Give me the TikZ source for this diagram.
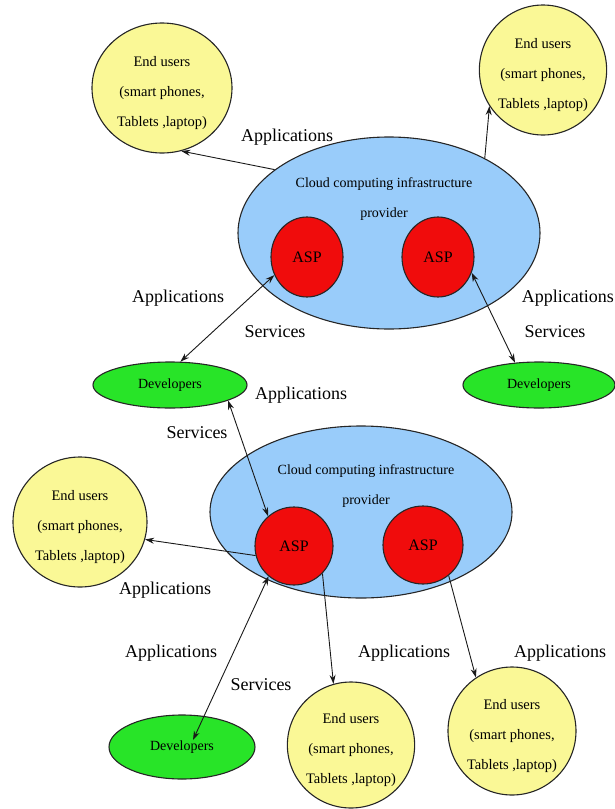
\documentclass[tikz,border=0pt]{standalone}
\usepackage{fontspec}
\setmainfont{Liberation Serif}
\usetikzlibrary{arrows.meta,shapes.geometric}

\definecolor{useryellow}{RGB}{250,248,150}
\definecolor{cloudblue}{RGB}{153,204,250}
\definecolor{aspred}{RGB}{240,12,12}
\definecolor{devgreen}{RGB}{40,228,40}

\newcommand{\usertext}{\rule{0pt}{20pt}End users\\(smart phones,\\Tablets ,laptop)}

\tikzset{
    blob/.style={ellipse, draw=black!85, line width=1.1pt, inner sep=0pt, align=center},
    users/.style={blob, fill=useryellow, font=\fontsize{14.5}{30}\selectfont},
    provider/.style={blob, fill=cloudblue, minimum width=302pt},
    ptext/.style={align=center, font=\fontsize{14}{30}\selectfont},
    asp/.style={blob, fill=aspred, font=\fontsize{16}{18}\selectfont},
    devs/.style={blob, fill=devgreen, font=\fontsize{14}{16}\selectfont},
    lbl/.style={font=\fontsize{18}{20}\selectfont},
    link/.style={line width=0.9pt, black!90}
}

\begin{document}
\begin{tikzpicture}[x=1pt,y=-1pt,>={Stealth[length=9pt,width=6pt]}]
                \useasboundingbox (0,0) rectangle (615,809);

                \node[users, minimum width=140pt, minimum height=130pt] (usrA) at (162,88) {\usertext};
                \node[users, minimum width=124pt, minimum height=130pt] (usrB) at (543,70) {\usertext};

                \node[provider, minimum height=192pt] (cloudA) at (389,233) {};
                \node[ptext] (cloudAtxt) at (384,199) {Cloud computing infrastructure\\provider};
                \node[asp, minimum width=72pt, minimum height=80pt] (aspA1) at (307,257) {ASP};
                \node[asp, minimum width=72pt, minimum height=80pt] (aspA2) at (438,257) {ASP};

                \node[devs, minimum width=154pt, minimum height=46pt] (devA1) at (170,385) {Developers};
                \node[devs, minimum width=152pt, minimum height=46pt] (devA2) at (539,385) {Developers};

                \node[provider, minimum height=172pt] (cloudB) at (361,512) {};
                \node[ptext] (cloudBtxt) at (366,486) {Cloud computing infrastructure\\provider};
                \node[asp, minimum width=78pt, minimum height=78pt] (aspB1) at (294,546) {ASP};
                \node[asp, minimum width=80pt, minimum height=78pt] (aspB2) at (423,545) {ASP};

                \node[users, minimum width=134pt, minimum height=130pt] (usrC) at (80,522) {\usertext};
                \node[devs, minimum width=146pt, minimum height=64pt] (devB) at (182,747) {Developers};
                \node[users, minimum width=126pt, minimum height=126pt] (usrD) at (351,745) {\usertext};
                \node[users, minimum width=128pt, minimum height=128pt] (usrE) at (512,731) {\usertext};
                \coordinate (devBin) at (193,740);

                \node[lbl] (appA) at (287,137) {Applications};
                \node[lbl] (appB) at (178,298) {Applications};
                \node[lbl] (srvB) at (275,332) {Services};
                \node[lbl, anchor=east, inner sep=1pt] (appC) at (615,298) {Applications};
                \node[lbl] (srvC) at (555,332) {Services};
                \node[lbl] (appD) at (301,395) {Applications};
                \node[lbl] (srvD) at (197,433) {Services};
                \node[lbl] (appE) at (165,590) {Applications};
                \node[lbl] (appF) at (171,653) {Applications};
                \node[lbl] (srvF) at (261,685) {Services};
                \node[lbl] (appG) at (404,653) {Applications};
                \node[lbl] (appH) at (560,653) {Applications};

                \draw[link, ->] (cloudA.151) -- (usrA.-73);
                \draw[link, ->] (cloudA.38) -- (usrB.214);
                \draw[link, <->] (aspA1.209) -- (devA1.66);
                \draw[link, <->] (aspA2.335) -- (devA2.137);
                \draw[link, <->] (devA1.-15) -- (aspB1.131);
                \draw[link, ->] (aspB1.194) -- (usrC.-15);
                \draw[link, <->] (aspB1.230) -- (devBin);
                \draw[link, ->] (aspB1.-44) -- (usrD.106);
                \draw[link, ->] (aspB2.-50) -- (usrE.124);
            \end{tikzpicture}
\end{document}
